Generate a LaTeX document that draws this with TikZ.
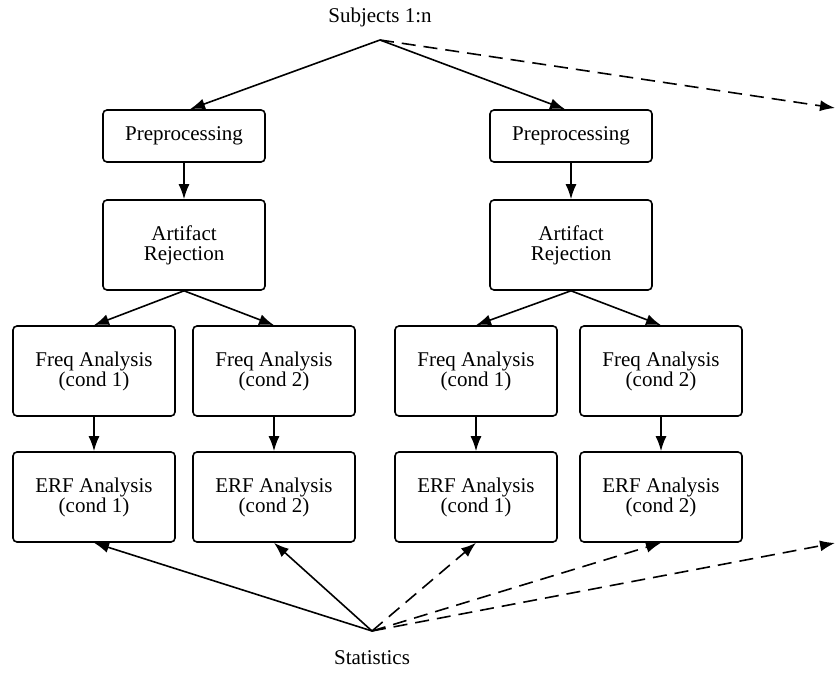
\documentclass[tikz,border=0pt]{standalone}
\usepackage{fontspec}
\setmainfont{Liberation Serif}
\usetikzlibrary{arrows.meta, positioning}

\begin{document}
\begin{tikzpicture}[x=0.5pt, y=-0.5pt, font=\fontsize{10.5}{10}\selectfont,
    block/.style={draw, rounded corners=2pt, line width=0.8pt, minimum width=81pt, align=center},
    shortblock/.style={block, minimum height=26pt},
    tallblock/.style={block, minimum height=45pt},
    link/.style={-{Latex[length=7.5pt,width=5.5pt]}, line width=0.8pt},
    later/.style={link, dash pattern=on 7pt off 4pt}]
    \useasboundingbox (0,0) rectangle (835,673);

    % top of the pipeline
    \node (subjects) at (380,17) {Subjects 1:n};
    \coordinate (split) at (380,40);
    \coordinate (moresubjects) at (835,108);

    % one column per subject
    \node[shortblock] (preA) at (184,136) {Preprocessing};
    \node[tallblock] (artA) at (184,245) {Artifact\\Rejection};
    \node[tallblock] (freqA1) at (94,371) {Freq Analysis\\(cond 1)};
    \node[tallblock] (freqA2) at (274,371) {Freq Analysis\\(cond 2)};
    \node[tallblock] (erfA1) at (94,497) {ERF Analysis\\(cond 1)};
    \node[tallblock] (erfA2) at (274,497) {ERF Analysis\\(cond 2)};

    \node[shortblock] (preB) at (571,136) {Preprocessing};
    \node[tallblock] (artB) at (571,245) {Artifact\\Rejection};
    \node[tallblock] (freqB1) at (476,371) {Freq Analysis\\(cond 1)};
    \node[tallblock] (freqB2) at (661,371) {Freq Analysis\\(cond 2)};
    \node[tallblock] (erfB1) at (476,497) {ERF Analysis\\(cond 1)};
    \node[tallblock] (erfB2) at (661,497) {ERF Analysis\\(cond 2)};

    % group level
    \coordinate (gather) at (372,631);
    \node (stats) at (372,658) {Statistics};
    \coordinate (morestats) at (835,543);

    \draw[link] (split) -- ([xshift=3pt]preA.north);
    \draw[link] (split) -- ([xshift=-3pt]preB.north);
    \draw[later] (split) -- (moresubjects);

    \draw[link] (preA) -- (artA);
    \draw[link] (artA.south) -- (freqA1.north);
    \draw[link] (artA.south) -- (freqA2.north);
    \draw[link] (freqA1) -- (erfA1);
    \draw[link] (freqA2) -- (erfA2);

    \draw[link] (preB) -- (artB);
    \draw[link] (artB.south) -- (freqB1.north);
    \draw[link] (artB.south) -- (freqB2.north);
    \draw[link] (freqB1) -- (erfB1);
    \draw[link] (freqB2) -- (erfB2);

    \draw[link] (gather) -- (erfA1.south);
    \draw[link] (gather) -- (erfA2.south);
    \draw[later] (gather) -- (erfB1.south);
    \draw[later] (gather) -- (erfB2.south);
    \draw[later] (gather) -- (morestats);
\end{tikzpicture}
\end{document}
